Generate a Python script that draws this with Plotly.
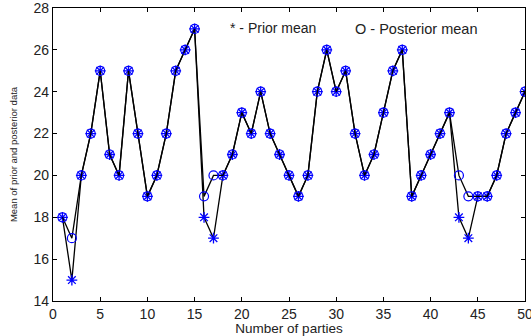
import plotly.graph_objects as go

parties = list(range(1, 51))
prior_mean = [18, 15, 20, 22, 25, 21, 20, 25, 22, 19,
              20, 22, 25, 26, 27, 18, 17, 20, 21, 23,
              22, 24, 22, 21, 20, 19, 20, 24, 26, 24,
              25, 22, 20, 21, 23, 25, 26, 19, 20, 21,
              22, 23, 18, 17, 19, 19, 20, 22, 23, 24]
posterior_mean = [18, 17, 20, 22, 25, 21, 20, 25, 22, 19,
                  20, 22, 25, 26, 27, 19, 20, 20, 21, 23,
                  22, 24, 22, 21, 20, 19, 20, 24, 26, 24,
                  25, 22, 20, 21, 23, 25, 26, 19, 20, 21,
                  22, 23, 20, 19, 19, 19, 20, 22, 23, 24]

FONT = "Liberation Sans, Arial, sans-serif"

fig = go.Figure()
fig.add_trace(go.Scatter(
    x=parties, y=prior_mean, mode="lines+markers",
    line=dict(color="black", width=1.3),
    marker=dict(symbol="asterisk-open", size=9, color="blue",
                line=dict(color="blue", width=1.3)),
    showlegend=False))
fig.add_trace(go.Scatter(
    x=parties, y=posterior_mean, mode="lines+markers",
    line=dict(color="black", width=1.3),
    marker=dict(symbol="circle-open", size=9, color="blue",
                line=dict(color="blue", width=1.2)),
    showlegend=False))

fig.add_annotation(x=18.5, y=27.05, text="* - Prior mean", showarrow=False,
                   xanchor="left", yanchor="middle",
                   font=dict(family=FONT, size=14, color="#222"))
fig.add_annotation(x=31.8, y=27.0, text="O - Posterior mean", showarrow=False,
                   xanchor="left", yanchor="middle",
                   font=dict(family=FONT, size=14.5, color="#222"))

axis_common = dict(showline=True, linecolor="black", linewidth=1.2, mirror="ticks",
                   ticks="inside", ticklen=4, tickcolor="black", showgrid=False,
                   zeroline=False, ticklabeloverflow="allow", automargin=False,
                   tickfont=dict(family=FONT, size=14, color="#222"))

fig.update_xaxes(range=[0, 50], tickvals=list(range(0, 51, 5)),
                 title=dict(text="Number of parties", standoff=1,
                            font=dict(family=FONT, size=13.5, color="#222")),
                 **axis_common)
fig.update_yaxes(range=[14, 28], tickvals=list(range(14, 29, 2)),
                 title=dict(text="Mean of prior and posterior data", standoff=14,
                            font=dict(family=FONT, size=9.5, color="#222")),
                 **axis_common)

fig.update_layout(width=531, height=336,
                  margin=dict(l=53, r=6, t=8, b=35),
                  plot_bgcolor="white", paper_bgcolor="white")

fig.write_html("out.html", config={"displayModeBar": False},
               post_script="document.body.style.margin='0px';document.body.style.overflow='hidden';")
